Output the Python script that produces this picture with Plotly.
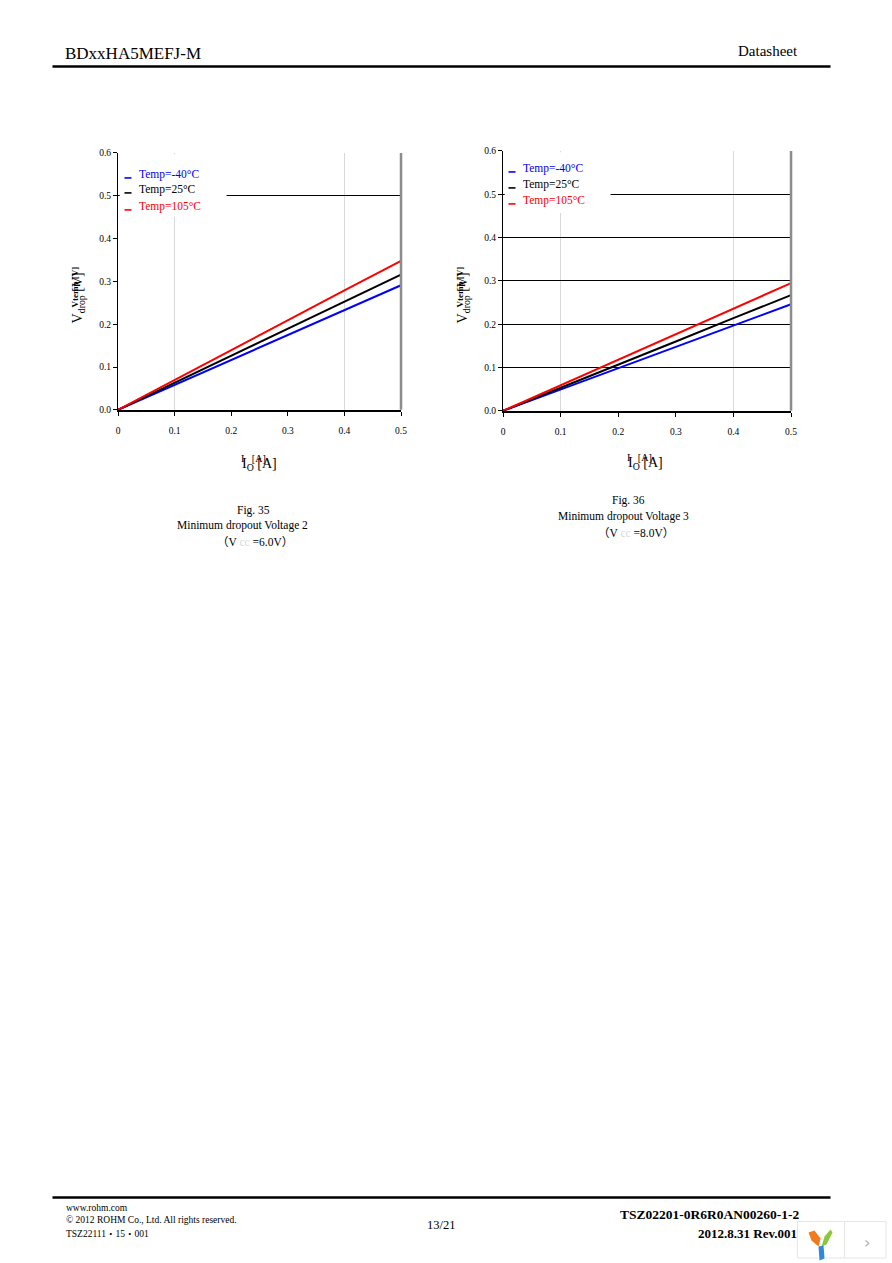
import plotly.graph_objects as go

# ---------------- data ----------------
io_a = [0.0, 0.1, 0.2, 0.3, 0.4, 0.5]
series_names = ["Temp=-40°C", "Temp=25°C", "Temp=105°C"]
series_colors = ["#0000ff", "#000000", "#ff0000"]

# Fig. 35 (Vcc = 6.0V)
vdrop35_m40 = [0.0, 0.058, 0.116, 0.174, 0.232, 0.291]
vdrop35_25 = [0.0, 0.063, 0.126, 0.190, 0.253, 0.316]
vdrop35_105 = [0.0, 0.070, 0.140, 0.209, 0.279, 0.348]

# Fig. 36 (Vcc = 8.0V)
vdrop36_m40 = [0.0, 0.049, 0.098, 0.148, 0.197, 0.246]
vdrop36_25 = [0.0, 0.053, 0.107, 0.160, 0.214, 0.267]
vdrop36_105 = [0.0, 0.059, 0.118, 0.177, 0.236, 0.295]

x_ticks = [0, 0.1, 0.2, 0.3, 0.4, 0.5]
x_ticklabels = ["0", "0.1", "0.2", "0.3", "0.4", "0.5"]
y_ticks = [0, 0.1, 0.2, 0.3, 0.4, 0.5, 0.6]
y_ticklabels = ["0.0", "0.1", "0.2", "0.3", "0.4", "0.5", "0.6"]

W, H = 892, 1263
SERIF = "Liberation Serif, Times New Roman, serif"
SERIF_CJK = "Liberation Serif, Noto Sans CJK JP, serif"

# small correction for how the page is photographed
SX, OX = 0.991, 1.5
SY, OY = 0.9925, 4.0


def px(x):
    return ((x - OX) / SX) / W


def py(y):
    return 1 - ((y - OY) / SY) / H


fig = go.Figure()

panels = [
    dict(xa="x", ya="y", data=[vdrop35_m40, vdrop35_25, vdrop35_105],
         xdom=[px(117.5), px(400.5)], ydom=[py(409), py(152)],
         ygrid=[0.5]),
    dict(xa="x2", ya="y2", data=[vdrop36_m40, vdrop36_25, vdrop36_105],
         xdom=[px(502.5), px(790.5)], ydom=[py(410), py(150)],
         ygrid=[0.1, 0.2, 0.3, 0.4, 0.5]),
]

for p in panels:
    for name, col, vals in zip(series_names, series_colors, p["data"]):
        fig.add_trace(go.Scatter(x=io_a, y=vals, mode="lines", name=name,
                                 line=dict(color=col, width=2),
                                 xaxis=p["xa"], yaxis=p["ya"], showlegend=False))

axis_common_x = dict(range=[0, 0.5], tickvals=x_ticks, ticktext=x_ticklabels,
                     showgrid=False, zeroline=False, showline=True, linecolor="#000",
                     linewidth=1.5, ticks="outside", ticklen=4, tickcolor="#000",
                     tickfont=dict(family=SERIF, size=9.5, color="#000"),
                     ticklabelstandoff=7,
                     minor=dict(tickvals=[0.1, 0.4], showgrid=True,
                                gridcolor="#d9d9d9", gridwidth=1, ticks=""))

layout_axes = {}
for i, p in enumerate(panels):
    sx = "" if i == 0 else "2"
    layout_axes["xaxis" + sx] = dict(axis_common_x, domain=p["xdom"], anchor=p["ya"],
                                      fixedrange=True)
    layout_axes["yaxis" + sx] = dict(range=[0, 0.6], tickvals=y_ticks, ticktext=y_ticklabels,
                                      domain=p["ydom"], anchor=p["xa"],
                                      showgrid=False, zeroline=False, showline=True,
                                      linecolor="#000", linewidth=1.2, ticks="outside",
                                      ticklen=4, tickcolor="#000",
                                      tickfont=dict(family=SERIF, size=9.5, color="#000"),
                                      minor=dict(tickvals=p["ygrid"], showgrid=True,
                                                 gridcolor="#000", gridwidth=1, ticks=""),
                                      fixedrange=True)

fig.update_layout(width=W, height=H, margin=dict(l=0, r=0, t=0, b=0),
                  paper_bgcolor="white", plot_bgcolor="white", showlegend=False,
                  **layout_axes)

shapes = []
ann = []

# right gray border of each plot + white legend box + legend entries
legend_info = [
    dict(xa="x", ya="y", box_x1=(226 - 117.5) / 283, box_y0=(409 - 216) / 257,
         dash_x=(124, 131), text_x=136, ys=[174, 189, 206]),
    dict(xa="x2", ya="y2", box_x1=(610 - 502.5) / 288, box_y0=(410 - 212) / 260,
         dash_x=(508, 515), text_x=520, ys=[168, 184, 200]),
]
for li in legend_info:
    shapes.append(dict(type="line", xref=li["xa"] + " domain", yref=li["ya"] + " domain",
                       x0=1, x1=1, y0=0, y1=1, line=dict(color="#8c8c8c", width=2.5),
                       layer="above"))
    shapes.append(dict(type="rect", xref=li["xa"] + " domain", yref=li["ya"] + " domain",
                       x0=0.006, x1=li["box_x1"], y0=li["box_y0"], y1=0.995,
                       fillcolor="white", line=dict(width=0), layer="above"))
    for name, col, yy in zip(series_names, series_colors, li["ys"]):
        shapes.append(dict(type="line", xref="paper", yref="paper",
                           x0=px(li["dash_x"][0]), x1=px(li["dash_x"][1]),
                           y0=py(yy + 3), y1=py(yy + 3),
                           line=dict(color=col, width=1.6), layer="above"))
        ann.append(dict(x=px(li["text_x"]), y=py(yy), xref="paper", yref="paper",
                        text=name, showarrow=False, xanchor="left", yanchor="middle",
                        font=dict(family=SERIF, size=11.5, color=col)))

# axis titles (overlapping, as in the source)
for cx in [78, 463]:
    ann.append(dict(x=px(cx), y=py(297), xref="paper", yref="paper",
                    text="V<sub>drop</sub> [V]", textangle=-90, showarrow=False,
                    xanchor="center", yanchor="middle",
                    font=dict(family=SERIF, size=14, color="#000")))
    ann.append(dict(x=px(cx - 4), y=py(286), xref="paper", yref="paper",
                    text="<b>Vtemp [V]</b>", textangle=-90, showarrow=False,
                    xanchor="center", yanchor="middle",
                    font=dict(family=SERIF, size=9, color="#000")))
for cx, cy in [(259, 464), (645, 463)]:
    ann.append(dict(x=px(cx), y=py(cy), xref="paper", yref="paper",
                    text="I<sub>O</sub> [A]", showarrow=False,
                    xanchor="center", yanchor="middle",
                    font=dict(family=SERIF, size=14, color="#000")))
    ann.append(dict(x=px(cx - 6), y=py(cy - 6), xref="paper", yref="paper",
                    text="I   [A]", showarrow=False,
                    xanchor="center", yanchor="middle",
                    font=dict(family=SERIF, size=10, color="#000")))

# captions
captions = [
    (253, 510, "Fig. 35"), (242, 525, "Minimum dropout Voltage 2"),
    (254, 541, "（V <span style='color:#d8d8d8'>cc</span> =6.0V）"),
    (628, 500, "Fig. 36"), (623, 516, "Minimum dropout Voltage 3"),
    (635, 532, "（V <span style='color:#d8d8d8'>cc</span> =8.0V）"),
]
for cx, cy, t in captions:
    ann.append(dict(x=px(cx), y=py(cy), xref="paper", yref="paper", text=t,
                    showarrow=False, xanchor="center", yanchor="middle",
                    font=dict(family=SERIF_CJK, size=11.5, color="#000")))

# header / footer
ann.append(dict(x=px(62), y=py(53), xref="paper", yref="paper", text="BDxxHA5MEFJ-M",
                showarrow=False, xanchor="left", yanchor="middle",
                font=dict(family=SERIF, size=17, color="#000")))
ann.append(dict(x=px(799), y=py(50), xref="paper", yref="paper", text="Datasheet",
                showarrow=False, xanchor="right", yanchor="middle",
                font=dict(family=SERIF, size=15, color="#000")))
shapes.append(dict(type="line", xref="paper", yref="paper", x0=px(52), x1=px(830),
                   y0=py(65.5), y1=py(65.5), line=dict(color="#000", width=2.5)))
shapes.append(dict(type="line", xref="paper", yref="paper", x0=px(52), x1=px(830),
                   y0=py(1197), y1=py(1197), line=dict(color="#000", width=2.5)))

footer_left = [(1208, "www.rohm.com"), (1220, "© 2012 ROHM Co., Ltd. All rights reserved."),
               (1234, "TSZ22111・15・001")]
for yy, t in footer_left:
    ann.append(dict(x=px(63), y=py(yy), xref="paper", yref="paper", text=t,
                    showarrow=False, xanchor="left", yanchor="middle",
                    font=dict(family=SERIF_CJK, size=9.5, color="#000")))
ann.append(dict(x=px(440), y=py(1225), xref="paper", yref="paper", text="13/21",
                showarrow=False, xanchor="center", yanchor="middle",
                font=dict(family=SERIF, size=12.5, color="#000")))
ann.append(dict(x=px(801), y=py(1214), xref="paper", yref="paper",
                text="<b>TSZ02201-0R6R0AN00260-1-2</b>",
                showarrow=False, xanchor="right", yanchor="middle",
                font=dict(family=SERIF, size=13.5, color="#000")))
ann.append(dict(x=px(798), y=py(1233), xref="paper", yref="paper",
                text="<b>2012.8.31 Rev.001</b>",
                showarrow=False, xanchor="right", yanchor="middle",
                font=dict(family=SERIF, size=13, color="#000")))

# viewer widget in bottom-right corner
shapes.append(dict(type="rect", xref="paper", yref="paper", x0=px(797), x1=1.0,
                   y0=0.0, y1=py(1221), fillcolor="white",
                   line=dict(color="#e6e6e6", width=1)))
shapes.append(dict(type="line", xref="paper", yref="paper", x0=px(844), x1=px(844),
                   y0=0.0, y1=py(1221), line=dict(color="#e6e6e6", width=1)))


def ppath(points):
    return "M " + " L ".join(f"{px(a):.5f},{py(b):.5f}" for a, b in points) + " Z"


shapes.append(dict(type="path", xref="paper", yref="paper",
                   path=ppath([(808, 1232), (814, 1230), (820, 1238), (818, 1246), (811, 1240)]),
                   fillcolor="#f07a1e", line=dict(width=0)))
shapes.append(dict(type="path", xref="paper", yref="paper",
                   path=ppath([(830, 1229), (832, 1232), (826, 1244), (821, 1246), (824, 1236)]),
                   fillcolor="#8cc63f", line=dict(width=0)))
shapes.append(dict(type="path", xref="paper", yref="paper",
                   path=ppath([(818, 1246), (823, 1245), (824, 1258), (819, 1260)]),
                   fillcolor="#2e8ad8", line=dict(width=0)))
ann.append(dict(x=px(866), y=py(1242), xref="paper", yref="paper", text="›",
                showarrow=False, xanchor="center", yanchor="middle",
                font=dict(family="DejaVu Sans", size=16, color="#b0b0b0")))

fig.update_layout(shapes=shapes, annotations=ann)
fig.write_html("out.html", config={"displayModeBar": False},
               post_script="document.body.style.margin='0px';"
                           "document.body.style.overflow='hidden';")
